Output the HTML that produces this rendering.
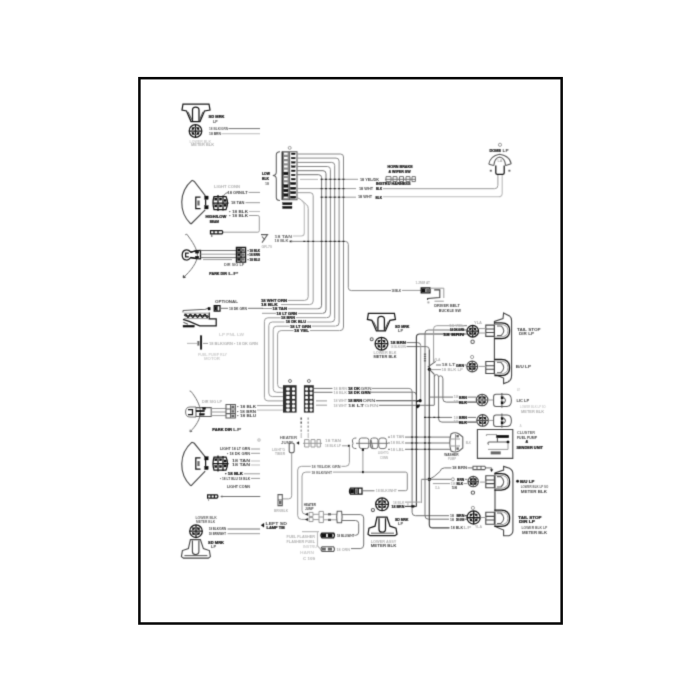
<!DOCTYPE html>
<html><head><meta charset="utf-8"><title>Wiring diagram</title>
<style>
html,body{margin:0;padding:0;background:#fff;}
body{width:700px;height:700px;overflow:hidden;font-family:"Liberation Sans",sans-serif;}
svg{display:block;}
path,circle,rect,ellipse{fill:none;}
.w{stroke:#727272;stroke-width:1.0;}
.wm{stroke:#888;stroke-width:1.0;}
.wl{stroke:#9a9a9a;stroke-width:1.0;}
.wf{stroke:#bcbcbc;stroke-width:1.1;}
.wd{stroke:#444;stroke-width:1.15;}
.d{stroke:#161616;stroke-width:1.25;}
.m{stroke:#5c5c5c;stroke-width:1.05;}
.a{stroke:#454545;stroke-width:1.1;}
.fd{fill:#101010;stroke:#101010;stroke-width:.3;}
.fm{fill:#666;stroke:none;}
.fx{fill:#2a2a2a;stroke:none;}
.fl{fill:#aaa;stroke:none;}
text{font-family:"Liberation Sans",sans-serif;font-weight:bold;}
.t{fill:#666;}
.td{fill:#161616;stroke:#161616;stroke-width:.22;}
.tm{fill:#444;}
.tl{fill:#b0b0b0;}
.tf{fill:#cccccc;}
</style></head><body>
<svg width="700" height="700" viewBox="0 0 700 700">
<defs><filter id="b" filterUnits="userSpaceOnUse" x="140" y="80" width="422" height="544" color-interpolation-filters="sRGB"><feConvolveMatrix order="3" kernelMatrix="1 5 1 5 25 5 1 5 1" divisor="49" edgeMode="duplicate" preserveAlpha="false"/></filter></defs>
<rect x="0" y="0" width="700" height="700" style="fill:#fff"/>
<rect x="139.4" y="78.18" width="422.25" height="545.32" style="fill:none;stroke:#060606;stroke-width:2.5"/>
<g filter="url(#b)">
<path class="d" d="M183,104 H209 L210,110 L204.5,111 L200,121.5 H191 L186.5,111 L182,110 Z" stroke-width="1.7"/>
<path class="d" d="M192.5,121 V110 Q192.5,107 195.7,107 Q199,107 199,110 V121" stroke-width="1.5"/>
<path class="m" d="M188,112 L192,120 M203,112 L199.5,120"/>
<circle class="d" cx="195.5" cy="131" r="6.3" stroke-width="1.6"/>
<path class="d" stroke-width="0.9" d="M189.2,131 H201.8 M195.5,124.7 V137.3"/>
<circle class="m" cx="195.5" cy="131" r="3.47" stroke-width="0.9"/>
<rect class="fd" x="191.98" y="127.58" width="2.0" height="1.8"/>
<rect class="fd" x="197.02" y="127.58" width="2.0" height="1.8"/>
<rect class="fd" x="191.98" y="132.62" width="2.0" height="1.8"/>
<rect class="fd" x="197.02" y="132.62" width="2.0" height="1.8"/>
<text class="td" x="208.5" y="118.2" font-size="3.96" textLength="16.0" lengthAdjust="spacingAndGlyphs">SD MRK</text>
<text class="tm" x="213.0" y="123.2" font-size="3.78" textLength="4.5" lengthAdjust="spacingAndGlyphs">LP</text>
<text class="t" x="209.0" y="130.4" font-size="3.61" textLength="19.0" lengthAdjust="spacingAndGlyphs">18 BLK/GRN</text>
<text class="tm" x="209.0" y="135.2" font-size="3.61" textLength="12.0" lengthAdjust="spacingAndGlyphs">18 BRN</text>
<path class="w" d="M228.5,128.6 H260"/>
<path class="wf" d="M221.5,133.7 H260"/>
<text class="tf" x="189.5" y="143.0" font-size="3.27" textLength="21.5" lengthAdjust="spacingAndGlyphs">LOWER BLK</text>
<text class="tl" x="191.0" y="146.4" font-size="3.27" textLength="23.0" lengthAdjust="spacingAndGlyphs">METER BLK</text>
<path class="a" d="M192.0,180.3 A29.6,29.6 0 0 0 190.8,224.0"/>
<path class="a" d="M192.0,180.3 L194.3,181.4 L205.4,195.8 M205.2,209.8 L191.0,224.0"/>
<path class="d" d="M200.5,197.2 H195.8 V208.6 H200.5" stroke-width="1.5"/>
<rect class="fd" x="204.6" y="196.0" width="3.6" height="3.4"/>
<rect class="fd" x="204.6" y="205.6" width="3.6" height="3.4"/>
<path class="d" d="M205.6,199.4 V205.6" stroke-width="1.2"/>
<rect class="fm" x="197.4" y="200.5" width="2.2" height="5"/>
<path class="d" d="M214.0,196.5 L226.0,196.5 Q229.0,203.0 226.0,209.5 L214.0,209.5 Q212.0,203.0 214.0,196.5 Z" stroke-width="1.2"/>
<path class="d" d="M218.0,195.0 V211.0 M223.0,195.5 V210.5 M213.0,203.0 H228.5" stroke-width="1"/>
<rect class="fd" x="214.6" y="198.0" width="2.3" height="2.2"/>
<rect class="fd" x="219.4" y="198.0" width="2.3" height="2.2"/>
<rect class="fd" x="214.6" y="204.8" width="2.3" height="2.2"/>
<rect class="fd" x="219.4" y="204.8" width="2.3" height="2.2"/>
<rect class="fd" x="224.0" y="199.3" width="2.3" height="2.2"/>
<rect class="fd" x="224.0" y="204.2" width="2.3" height="2.2"/>
<text class="tl" x="214.0" y="188.0" font-size="3.27" textLength="26.0" lengthAdjust="spacingAndGlyphs">LIGHT CONN</text>
<path class="w" d="M223.5,196 Q225,192.6 228.5,192.4"/>
<text class="tm" x="227.5" y="193.7" font-size="3.78" textLength="20.1" lengthAdjust="spacingAndGlyphs">18 ORN/LT</text>
<path class="wl" d="M248.6,192.4 H260"/>
<text class="tm" x="231.0" y="204.0" font-size="3.61" textLength="13.5" lengthAdjust="spacingAndGlyphs">18 TAN</text>
<path class="wl" d="M245.5,202.7 H260"/>
<text class="tm" x="229.0" y="212.8" font-size="3.61" textLength="19.0" lengthAdjust="spacingAndGlyphs">• 18 BLK</text>
<path class="wf" d="M249,211.5 H260"/>
<text class="tm" x="229.0" y="216.8" font-size="3.61" textLength="19.0" lengthAdjust="spacingAndGlyphs">• 18 BLK</text>
<path class="wl" d="M249,215.5 H257.8 Q259.3,215.5 259.3,217 V230.6 Q259.3,232.2 257.8,232.2 H223.5"/>
<text class="td" x="205.5" y="218.4" font-size="3.61" textLength="20.9" lengthAdjust="spacingAndGlyphs">HIGH/LOW</text>
<text class="td" x="209.7" y="222.6" font-size="3.61" textLength="9.3" lengthAdjust="spacingAndGlyphs">BEAM</text>
<path class="d" d="M210.5,230.6 H222 Q223.6,232.2 222,233.8 H210.5 Z M214,230.6 V233.8 M218,230.6 V233.8" stroke-width="1"/>
<path class="m" d="M211.8,234 V237"/>
<path class="w" d="M186.8,234.2 C192.4,241.6 197.3,249.0 197.4,255.5 C197.4,262.0 191.0,271.0 183.2,277.6"/>
<path class="a" d="M183.2,277.6 l0.3,-2.4 M183.2,277.6 l2.4,-0.5"/>
<path class="w" d="M186.8,234.2 l-1.6,0.6"/>
<path class="d" d="M196.0,251.0 L190.6,252.0 Q188.6,249.6 186.4,249.8 Q182.2,250.4 182.2,254.9 Q182.2,259.6 186.4,260.0 Q188.6,260.2 190.6,257.6 L196.0,258.4" stroke-width="1.3"/>
<path class="d" d="M188.8,253.0 H185.6 V256.8 H188.8" stroke-width="1.2"/>
<path class="d" d="M190.6,252.3 L196.0,250.6 L200.5,250.4 V258.8 L196.0,258.6 L190.6,257.3" stroke-width="1.2"/>
<rect class="fd" x="195.4" y="251.2" width="3.4" height="2"/>
<rect class="fd" x="195.4" y="256.2" width="3.4" height="2"/>
<path class="w" d="M200.5,250.5 H236 M200.5,257.6 H236"/>
<path class="wl" d="M200.5,254.2 H236"/>
<path class="wl" d="M203,259.6 H232"/>
<path class="d" d="M236.4,247.4 H245.6 V262 H236.4 Z M236.4,252.2 H245.6 M236.4,257 H245.6 M241,247.4 V262" stroke-width="1"/>
<rect class="fd" x="237.4" y="248.6" width="2.6" height="2.4"/>
<rect class="fm" x="242" y="248.6" width="2.6" height="2.4"/>
<rect class="fd" x="237.4" y="253.4" width="2.6" height="2.4"/>
<rect class="fm" x="242" y="253.4" width="2.6" height="2.4"/>
<rect class="fd" x="237.4" y="258.2" width="2.6" height="2.4"/>
<rect class="fm" x="242" y="258.2" width="2.6" height="2.4"/>
<text class="td" x="247.5" y="251.6" font-size="3.78" textLength="12.5" lengthAdjust="spacingAndGlyphs">• 18 BLK</text>
<text class="td" x="247.5" y="255.9" font-size="3.78" textLength="12.5" lengthAdjust="spacingAndGlyphs">• 18 BRN</text>
<text class="td" x="247.5" y="260.8" font-size="3.78" textLength="12.5" lengthAdjust="spacingAndGlyphs">• 18 BLU</text>
<text class="t" x="224.0" y="266.0" font-size="3.27" textLength="20.4" lengthAdjust="spacingAndGlyphs">DIR SIG LP</text>
<text class="td" x="209.3" y="275.2" font-size="3.78" textLength="17.7" lengthAdjust="spacingAndGlyphs">PARK DIR</text>
<text class="tm" x="228.0" y="275.2" font-size="3.61" textLength="10.6" lengthAdjust="spacingAndGlyphs">LP</text>
<path class="m" d="M261,234.6 H267.6 L262,242.6 M262,236.5 L265,240"/>
<text class="tl" x="261.4" y="247.6" font-size="3.1" textLength="10.6" lengthAdjust="spacingAndGlyphs">GR-70</text>
<text class="t" x="274.5" y="237.6" font-size="2.92" textLength="17.5" lengthAdjust="spacingAndGlyphs">18 TAN</text>
<text class="t" x="274.5" y="242.3" font-size="2.92" textLength="14.0" lengthAdjust="spacingAndGlyphs">18 BLK</text>
<rect class="fx" x="289.6" y="240.6" width="2.6" height="1.6"/>
<circle class="wl" cx="289.7" cy="147.9" r="1.5" stroke-width="0.7"/>
<path class="m" d="M280,151.8 Q276.3,151.8 276.3,155 V172 Q276.3,175.4 272.8,175.4 Q276.3,175.4 276.3,179 V197.5 Q276.3,200.5 280,200.5"/>
<text class="td" x="262.0" y="174.5" font-size="3.44" textLength="8.0" lengthAdjust="spacingAndGlyphs">LOW</text>
<text class="td" x="262.0" y="179.5" font-size="3.44" textLength="7.0" lengthAdjust="spacingAndGlyphs">BLK</text>
<text class="t" x="265.0" y="184.5" font-size="3.44" textLength="4.0" lengthAdjust="spacingAndGlyphs">18</text>
<rect x="281.8" y="151.8" width="7.4" height="48" style="fill:#8c8c8c;stroke:none"/>
<rect x="281.6" y="151.6" width="1.5" height="48.4" style="fill:#333;stroke:none"/>
<path class="m" d="M281.8,151.8 H297 V199.8 H281.8 M289.6,151.8 V199.8"/>
<rect x="284" y="152.7" width="3.6" height="2.0" style="fill:#fff;stroke:none"/>
<rect class="fd" x="291.4" y="153.0" width="3.8" height="1.6"/>
<rect x="284" y="157.0" width="3.6" height="2.0" style="fill:#fff;stroke:none"/>
<rect class="fd" x="291.4" y="157.3" width="3.8" height="1.6"/>
<rect x="284" y="161.3" width="3.6" height="2.0" style="fill:#fff;stroke:none"/>
<rect class="fd" x="291.4" y="161.6" width="3.8" height="1.6"/>
<rect x="284" y="165.5" width="3.6" height="2.0" style="fill:#fff;stroke:none"/>
<rect class="fd" x="291.4" y="165.8" width="3.8" height="1.6"/>
<rect x="284" y="169.7" width="3.6" height="2.0" style="fill:#fff;stroke:none"/>
<rect class="fd" x="291.4" y="170.0" width="3.8" height="1.6"/>
<rect x="284" y="173.9" width="3.6" height="2.0" style="fill:#fff;stroke:none"/>
<rect class="fd" x="291.4" y="174.2" width="3.8" height="1.6"/>
<rect x="284" y="178.1" width="3.6" height="2.0" style="fill:#fff;stroke:none"/>
<rect class="fd" x="291.4" y="178.4" width="3.8" height="1.6"/>
<rect x="284" y="182.4" width="3.6" height="2.0" style="fill:#fff;stroke:none"/>
<rect class="fd" x="290.4" y="182.4" width="5.4" height="2.2"/>
<rect x="284" y="187.2" width="3.6" height="2.0" style="fill:#fff;stroke:none"/>
<rect class="fd" x="290.4" y="187.2" width="5.4" height="2.2"/>
<rect x="284" y="191.5" width="3.6" height="2.0" style="fill:#fff;stroke:none"/>
<rect class="fd" x="290.4" y="191.5" width="5.4" height="2.2"/>
<rect x="284" y="196.1" width="3.6" height="2.0" style="fill:#fff;stroke:none"/>
<rect class="fd" x="290.4" y="196.1" width="5.4" height="2.2"/>
<rect class="fd" x="283.6" y="172.3" width="4.4" height="2.5"/>
<rect class="fd" x="283.6" y="184.8" width="4.4" height="2.5"/>
<rect class="fd" x="283.6" y="189.3" width="4.4" height="2.5"/>
<rect class="fd" x="283.6" y="193.8" width="4.4" height="2.5"/>
<rect class="fd" x="282.6" y="202.6" width="9.4" height="2.2"/>
<rect class="fd" x="282.6" y="206.3" width="9.4" height="2.2"/>
<path class="wm" d="M297,154.0 H340.5 Q343.5,154.0 343.5,157.0 V327.1 Q343.5,330.6 340.0,330.6"/>
<path class="wm" d="M297,158.1 H336.1 Q339.1,158.1 339.1,161.1 V322.6 Q339.1,326.1 335.6,326.1"/>
<path class="wm" d="M297,162.4 H331.7 Q334.7,162.4 334.7,165.4 V318.5 Q334.7,322.0 331.2,322.0"/>
<path class="wm" d="M297,166.5 H327.4 Q330.4,166.5 330.4,169.5 V314.2 Q330.4,317.7 326.9,317.7"/>
<path class="w" d="M297,170.7 H323.0 Q326.0,170.7 326.0,173.7 V309.9 Q326.0,313.4 322.5,313.4"/>
<path class="w" d="M297,174.7 H318.6 Q321.6,174.7 321.6,177.7 V305.3 Q321.6,308.8 318.1,308.8"/>
<path class="wf" d="M300,179.4 H318"/>
<path class="wl" d="M321.6,179.3 H358"/>
<path class="wl" d="M297,188.6 H356"/>
<path class="wl" d="M322,197.2 H356"/>
<rect class="fx" x="320.6" y="178.7" width="2.0" height="1.2"/>
<rect class="fx" x="325.0" y="178.7" width="2.0" height="1.2"/>
<rect class="fx" x="329.4" y="178.7" width="2.0" height="1.2"/>
<rect class="fx" x="333.7" y="178.7" width="2.0" height="1.2"/>
<rect class="fx" x="338.1" y="178.7" width="2.0" height="1.2"/>
<rect class="fx" x="342.5" y="178.7" width="2.0" height="1.2"/>
<rect class="fx" x="320.6" y="188.0" width="2.0" height="1.2"/>
<rect class="fx" x="325.0" y="188.0" width="2.0" height="1.2"/>
<rect class="fx" x="329.4" y="188.0" width="2.0" height="1.2"/>
<rect class="fx" x="333.7" y="188.0" width="2.0" height="1.2"/>
<rect class="fx" x="338.1" y="188.0" width="2.0" height="1.2"/>
<rect class="fx" x="342.5" y="188.0" width="2.0" height="1.2"/>
<rect class="fx" x="320.6" y="196.6" width="2.0" height="1.2"/>
<rect class="fx" x="325.0" y="196.6" width="2.0" height="1.2"/>
<rect class="fx" x="329.4" y="196.6" width="2.0" height="1.2"/>
<rect class="fx" x="333.7" y="196.6" width="2.0" height="1.2"/>
<rect class="fx" x="338.1" y="196.6" width="2.0" height="1.2"/>
<rect class="fx" x="342.5" y="196.6" width="2.0" height="1.2"/>
<path class="wl" d="M297,192.7 H310.2 Q313.2,192.7 313.2,195.7 V301 Q313.2,304.6 309.6,304.6 H281"/>
<path class="wl" d="M297,197.6 L300,199 L306.5,204.6 Q308.2,206 308.2,208.5 V296.8 Q308.2,300.4 304.6,300.4 H288"/>
<path class="wf" d="M301.5,200.3 Q304.3,202.5 304.3,205 V233 Q304.3,236 301.3,236 H293"/>
<path class="wm" d="M291,241.4 H345.3 Q348.3,241.4 348.3,244.4 V287.6 Q348.3,290.6 351.3,290.6 H391"/>
<rect class="fx" x="303.3" y="240.8" width="2.0" height="1.2"/>
<rect class="fx" x="307.2" y="240.8" width="2.0" height="1.2"/>
<rect class="fx" x="312.2" y="240.8" width="2.0" height="1.2"/>
<rect class="fx" x="320.6" y="240.8" width="2.0" height="1.2"/>
<rect class="fx" x="325.0" y="240.8" width="2.0" height="1.2"/>
<rect class="fx" x="329.4" y="240.8" width="2.0" height="1.2"/>
<rect class="fx" x="333.7" y="240.8" width="2.0" height="1.2"/>
<rect class="fx" x="338.1" y="240.8" width="2.0" height="1.2"/>
<rect class="fx" x="342.5" y="240.8" width="2.0" height="1.2"/>
<text class="td" x="261.0" y="301.9" font-size="3.78" textLength="26.0" lengthAdjust="spacingAndGlyphs">18 WHT ORN</text>
<text class="td" x="261.0" y="306.2" font-size="3.78" textLength="16.7" lengthAdjust="spacingAndGlyphs">18 BLK</text>
<text class="td" x="272.6" y="310.2" font-size="3.78" textLength="14.4" lengthAdjust="spacingAndGlyphs">18 TAN</text>
<text class="td" x="276.6" y="314.8" font-size="3.78" textLength="20.4" lengthAdjust="spacingAndGlyphs">18 LT GRN</text>
<text class="td" x="281.0" y="319.1" font-size="3.78" textLength="14.0" lengthAdjust="spacingAndGlyphs">18 BRN</text>
<text class="td" x="285.7" y="323.3" font-size="3.78" textLength="20.3" lengthAdjust="spacingAndGlyphs">18 DK BLU</text>
<text class="td" x="290.0" y="327.5" font-size="3.78" textLength="21.0" lengthAdjust="spacingAndGlyphs">18 LT GRN</text>
<text class="td" x="294.0" y="332.1" font-size="3.78" textLength="15.0" lengthAdjust="spacingAndGlyphs">18 YEL</text>
<path class="wl" d="M318,308.8 H288"/>
<path class="wl" d="M322.3,313.4 H298"/>
<path class="wl" d="M272,308.5 H262"/>
<path class="wl" d="M276,313.3 H262"/>
<path class="wl" d="M280.5,317.8 H267.9 Q264.4,317.8 264.4,321.3 V397.4 Q264.4,400.9 267.9,400.9 H283"/>
<path class="wl" d="M284.5,322.0 H272.3 Q268.8,322.0 268.8,325.5 V393.1 Q268.8,396.6 272.3,396.6 H283"/>
<path class="wl" d="M289.5,326.2 H276.7 Q273.2,326.2 273.2,329.7 V388.8 Q273.2,392.3 276.7,392.3 H283"/>
<path class="wl" d="M293.5,330.6 H281.1 Q277.6,330.6 277.6,334.1 V384.5 Q277.6,388.0 281.1,388.0 H283"/>
<path class="wl" d="M326.7,317.7 H296"/>
<path class="wl" d="M331,322.0 H307"/>
<path class="wl" d="M335.3,326.1 H312"/>
<path class="wl" d="M339.7,330.6 H310"/>
<text class="tm" x="215.0" y="303.4" font-size="3.44" textLength="23.0" lengthAdjust="spacingAndGlyphs">OPTIONAL</text>
<path class="d" d="M214.2,305.7 H220 V311 H214.2 Z M217,305.7 V311" stroke-width="1.1"/>
<rect class="fd" x="214.8" y="306.4" width="1.8" height="3.8"/>
<text class="tm" x="229.0" y="309.6" font-size="3.61" textLength="18.0" lengthAdjust="spacingAndGlyphs">18 DK GRN</text>
<path class="w" d="M220.3,308.3 H228 M248,308.3 H263"/>
<path class="m" d="M183,310.6 L205.5,309.2 L209.5,307.8"/>
<path class="m" d="M183,310.6 V312.4"/>
<path class="d" d="M184.4,315.9 q1.2,-3.4 2.4,0 q1.2,3.4 2.4,0 q1.2,-3.4 2.4,0 q1.2,3.4 2.4,0 q1.2,-3.4 2.4,0 q1.2,3.4 2.4,0 q1.2,-3.4 2.4,0 q1.2,3.4 2.4,0 q1.2,-3.4 2.4,0 q1.2,3.4 2.4,0" stroke-width="1.7"/>
<path class="d" d="M185,315.9 H208" stroke-width="1.2"/>
<path class="wl" d="M184,313.2 H208 M184,318.6 H208"/>
<path class="d" d="M209.2,312.4 V318.8 H216.2 V325.8 H199.6 L189.2,321.4 L183,319.4" stroke-width="1.3"/>
<path class="m" d="M183.4,322.2 L188,324.2"/>
<rect class="fd" x="183" y="325.2" width="11.4" height="1.9"/>
<rect class="fd" x="208" y="307.4" width="2.2" height="2.6"/>
<text class="tf" x="219.0" y="336.4" font-size="3.27" textLength="25.0" lengthAdjust="spacingAndGlyphs">LP PNL LW</text>
<rect class="fd" x="200.2" y="335.8" width="1.7" height="13.6"/>
<rect class="fm" x="197.4" y="341" width="2" height="4.6"/>
<path class="wf" d="M187,343.4 H197"/>
<path class="wl" d="M203,343.4 H208"/>
<text class="tl" x="209.0" y="344.8" font-size="3.27" textLength="49.0" lengthAdjust="spacingAndGlyphs">18 BLK/GRN • 18 DK GRN</text>
<text class="tf" x="198.0" y="355.6" font-size="3.27" textLength="29.0" lengthAdjust="spacingAndGlyphs">FUEL PUMP RLY</text>
<text class="tf" x="204.0" y="360.4" font-size="3.27" textLength="16.0" lengthAdjust="spacingAndGlyphs">MOTOR</text>
<circle class="w" cx="290" cy="381" r="1.5" stroke-width="0.7"/>
<circle class="w" cx="308.9" cy="381" r="1.5" stroke-width="0.7"/>
<rect x="283" y="385.2" width="13.6" height="27.4" style="fill:#303030;stroke:none"/>
<rect x="303.9" y="385.2" width="9.9" height="27.4" style="fill:#303030;stroke:none"/>
<rect x="286.2" y="387.5" width="3.5" height="3.0" rx="0.8" style="fill:#fff;stroke:none"/>
<rect x="292.0" y="387.5" width="3.0" height="3.0" rx="0.8" style="fill:#fff;stroke:none"/>
<rect x="305.2" y="387.5" width="2.8" height="3.0" rx="0.8" style="fill:#fff;stroke:none"/>
<rect x="309.7" y="387.5" width="2.7" height="3.0" rx="0.8" style="fill:#fff;stroke:none"/>
<rect x="286.2" y="391.8" width="3.5" height="3.0" rx="0.8" style="fill:#fff;stroke:none"/>
<rect x="292.0" y="391.8" width="3.0" height="3.0" rx="0.8" style="fill:#fff;stroke:none"/>
<rect x="305.2" y="391.8" width="2.8" height="3.0" rx="0.8" style="fill:#fff;stroke:none"/>
<rect x="309.7" y="391.8" width="2.7" height="3.0" rx="0.8" style="fill:#fff;stroke:none"/>
<rect x="286.2" y="396.1" width="3.5" height="3.0" rx="0.8" style="fill:#fff;stroke:none"/>
<rect x="292.0" y="396.1" width="3.0" height="3.0" rx="0.8" style="fill:#fff;stroke:none"/>
<rect x="305.2" y="396.1" width="2.8" height="3.0" rx="0.8" style="fill:#fff;stroke:none"/>
<rect x="309.7" y="396.1" width="2.7" height="3.0" rx="0.8" style="fill:#fff;stroke:none"/>
<rect x="286.2" y="400.4" width="3.5" height="3.0" rx="0.8" style="fill:#fff;stroke:none"/>
<rect x="292.0" y="400.4" width="3.0" height="3.0" rx="0.8" style="fill:#fff;stroke:none"/>
<rect x="305.2" y="400.4" width="2.8" height="3.0" rx="0.8" style="fill:#fff;stroke:none"/>
<rect x="309.7" y="400.4" width="2.7" height="3.0" rx="0.8" style="fill:#fff;stroke:none"/>
<rect x="286.2" y="404.6" width="3.5" height="3.0" rx="0.8" style="fill:#fff;stroke:none"/>
<rect x="292.0" y="404.6" width="3.0" height="3.0" rx="0.8" style="fill:#fff;stroke:none"/>
<rect x="305.2" y="404.6" width="2.8" height="3.0" rx="0.8" style="fill:#fff;stroke:none"/>
<rect x="309.7" y="404.6" width="2.7" height="3.0" rx="0.8" style="fill:#fff;stroke:none"/>
<rect x="286.2" y="408.4" width="3.5" height="3.0" rx="0.8" style="fill:#fff;stroke:none"/>
<rect x="292.0" y="408.4" width="3.0" height="3.0" rx="0.8" style="fill:#fff;stroke:none"/>
<rect x="305.2" y="408.4" width="2.8" height="3.0" rx="0.8" style="fill:#fff;stroke:none"/>
<rect x="309.7" y="408.4" width="2.7" height="3.0" rx="0.8" style="fill:#fff;stroke:none"/>
<path class="wl" d="M257,405.6 H283"/>
<path class="wf" d="M257,410.1 H283"/>
<text class="tl" x="333.5" y="389.8" font-size="3.44" textLength="13.5" lengthAdjust="spacingAndGlyphs">18 BRN</text>
<text class="td" x="348.0" y="390.0" font-size="3.96" textLength="12.0" lengthAdjust="spacingAndGlyphs">18 DK</text>
<text class="t" x="360.5" y="389.8" font-size="3.44" textLength="11.0" lengthAdjust="spacingAndGlyphs">GRN</text>
<path class="w" d="M314,388.4 H332.5"/>
<path class="wm" d="M372,388.4 H409 Q412.1,388.4 412.1,391.5"/>
<text class="tl" x="333.5" y="393.7" font-size="3.44" textLength="13.5" lengthAdjust="spacingAndGlyphs">18 BLK</text>
<text class="td" x="348.0" y="393.9" font-size="3.96" textLength="22.5" lengthAdjust="spacingAndGlyphs">18 DK GRN</text>
<path class="w" d="M314,392.3 H332.5"/>
<path class="w" d="M371,392.2 H413.5 Q416.4,392.2 416.4,395"/>
<text class="tl" x="333.5" y="402.3" font-size="3.44" textLength="13.5" lengthAdjust="spacingAndGlyphs">18 WHT</text>
<text class="td" x="348.0" y="402.4" font-size="3.96" textLength="14.0" lengthAdjust="spacingAndGlyphs">18 BRN</text>
<text class="t" x="362.5" y="402.3" font-size="3.44" textLength="13.0" lengthAdjust="spacingAndGlyphs">ORN</text>
<path class="wl" d="M316,400.9 H327"/>
<path class="a" d="M376,400.8 H421"/>
<text class="tl" x="333.5" y="406.6" font-size="3.44" textLength="13.5" lengthAdjust="spacingAndGlyphs">18 WHT</text>
<text class="tm" x="348.0" y="406.7" font-size="3.78" textLength="16.0" lengthAdjust="spacingAndGlyphs">18 LT</text>
<text class="tl" x="364.5" y="406.6" font-size="3.44" textLength="14.0" lengthAdjust="spacingAndGlyphs">GRN</text>
<path class="wl" d="M316,405.2 H327"/>
<path class="w" d="M379,405.3 H434"/>
<rect class="fm" x="300.4" y="417.5" width="1.6" height="2.2"/>
<rect class="fl" x="307.4" y="417.5" width="1.6" height="2.2"/>
<rect class="fm" x="300.4" y="421.5" width="1.6" height="2.2"/>
<rect class="fl" x="307.4" y="421.5" width="1.6" height="2.2"/>
<rect class="fl" x="300.4" y="425.5" width="1.6" height="2.2"/>
<rect class="fl" x="307.4" y="425.5" width="1.6" height="2.2"/>
<rect class="fl" x="300.4" y="429.5" width="1.6" height="2.2"/>
<rect class="fl" x="307.4" y="429.5" width="1.6" height="2.2"/>
<path class="wf" d="M301.2,433 V438 M308.2,433 V438"/>
<text class="t" x="279.7" y="439.2" font-size="3.44" textLength="17.3" lengthAdjust="spacingAndGlyphs">HEATER</text>
<text class="t" x="281.0" y="444.4" font-size="3.44" textLength="12.0" lengthAdjust="spacingAndGlyphs">JUMP</text>
<path class="fd" d="M296.6,443 l2.4,-1.4 v2.8 z"/>
<text class="tl" x="272.0" y="450.8" font-size="3.27" textLength="13.0" lengthAdjust="spacingAndGlyphs">LIGHT'G</text>
<text class="tl" x="275.0" y="454.8" font-size="3.27" textLength="10.0" lengthAdjust="spacingAndGlyphs">TIMER</text>
<path class="m" d="M289.2,444.6 Q289.2,443 291.7,443 Q294.2,443 294.2,444.6 V451 Q294.2,452.8 291.7,452.8 Q289.2,452.8 289.2,451 Z"/>
<path class="wl" d="M291.7,452.8 V495.8 Q291.7,498.9 288.6,498.9 H282.6"/>
<path class="m" d="M278,494.6 H282.3 V505.6 H278 Z M278,500 H282.3"/>
<rect class="fm" x="279" y="501" width="2.6" height="3.4"/>
<text class="tl" x="274.0" y="512.4" font-size="3.27" textLength="14.0" lengthAdjust="spacingAndGlyphs">BRN/BLK</text>
<path class="wl" d="M304.6,439.6 H309 V447 H304.6 Z M311,439.6 H315 V447 H311 Z M317,439.6 H320.4 V447 H317 Z"/>
<path class="wl" d="M303,443.3 H322"/>
<text class="tl" x="325.0" y="441.6" font-size="3.44" textLength="16.0" lengthAdjust="spacingAndGlyphs">18 TAN</text>
<text class="tl" x="325.0" y="447.2" font-size="3.44" textLength="16.0" lengthAdjust="spacingAndGlyphs">18 BLK LP</text>
<rect class="fx" x="347.8" y="444.8" width="2.0" height="2.0"/>
<path class="wl" d="M342,445.8 H347.6"/>
<path class="w" d="M356.4,438 Q352,438 352.4,441 Q353.5,443.3 352.4,445.6 Q352,448.6 356.4,448.6"/>
<path class="w" d="M361.5,438 H366.5 Q368.8,438 368.8,440.5 V446 Q368.8,448.6 366.5,448.6 H361.5 Q359.2,448.6 359.2,446 V440.5 Q359.2,438 361.5,438 Z"/>
<path class="w" d="M373,438 H375.8 Q378,438 378,440.5 V446 Q378,448.6 375.8,448.6 H373 Q370.8,438 370.8,440.5 V446 Q370.8,448.6 373,448.6"/>
<path class="w" d="M372.8,438 Q370.6,438 370.6,440.5 V446 Q370.6,448.6 372.8,448.6"/>
<path class="w" d="M381,438 H384 Q386.4,438 386.4,440.5 V446 Q386.4,448.6 384,448.6 H381 Q378.8,448.6 378.8,446 V440.5 Q378.8,438 381,438 Z"/>
<path class="w" d="M356,443.3 H388"/>
<rect class="fx" x="361.8" y="448.6" width="2.2" height="2.4"/>
<text class="tl" x="378.0" y="454.4" font-size="3.27" textLength="10.6" lengthAdjust="spacingAndGlyphs">LIGHT'G</text>
<text class="tl" x="380.0" y="458.6" font-size="3.27" textLength="8.0" lengthAdjust="spacingAndGlyphs">CONN</text>
<text class="tl" x="390.5" y="438.2" font-size="3.44" textLength="13.8" lengthAdjust="spacingAndGlyphs">18 TAN</text>
<text class="tl" x="390.5" y="444.2" font-size="3.44" textLength="13.8" lengthAdjust="spacingAndGlyphs">18 BLK</text>
<text class="tl" x="390.5" y="450.6" font-size="3.44" textLength="13.8" lengthAdjust="spacingAndGlyphs">18 LBL</text>
<path class="w" d="M388,437.1 H390 M405,437.1 H450"/>
<path class="w" d="M388,443 H390 M405,443 H450"/>
<path class="w" d="M388,449.3 H390 M405,449.3 H450"/>
<path class="m" d="M451,434 Q455,431.6 459,434 L462.8,437 V448 L459,451 Q455,453 451,451 Q448.6,442.5 451,434 Z"/>
<path class="wl" d="M455.5,434 V451 M451,439 H460 M451,446 H460"/>
<rect class="fm" x="456.4" y="435" width="2.4" height="2.4"/>
<rect class="fm" x="456.4" y="447.4" width="2.4" height="2.4"/>
<text class="tl" x="465.7" y="443.6" font-size="3.27" textLength="5.3" lengthAdjust="spacingAndGlyphs">BLK</text>
<text class="tm" x="444.3" y="455.8" font-size="3.44" textLength="14.3" lengthAdjust="spacingAndGlyphs">WASHER</text>
<text class="tl" x="448.0" y="459.8" font-size="3.27" textLength="8.0" lengthAdjust="spacingAndGlyphs">PUMP</text>
<path class="wl" d="M349.4,447 V462.5 Q349.4,466.3 345.6,466.3 H341.5"/>
<path class="wl" d="M310.8,466.3 H301.6 Q297.7,466.3 297.7,470 V515.6 Q297.7,519.4 301.6,519.4 H306"/>
<text class="t" x="311.4" y="467.8" font-size="3.61" textLength="29.2" lengthAdjust="spacingAndGlyphs">18 YEL/DK GRN</text>
<path class="wl" d="M310.6,472.1 H305.8 Q302,472.1 302,476 V510.6 Q302,514.3 305.8,514.3 H306"/>
<text class="t" x="311.4" y="473.6" font-size="3.61" textLength="20.6" lengthAdjust="spacingAndGlyphs">18 BLK/WHT</text>
<path class="wl" d="M333,472.1 H360"/>
<path class="wm" d="M360,472.1 H405.6 Q407.3,472.1 407.3,473.8 V489 Q407.3,490.7 405.6,490.7 H398"/>
<path class="wl" d="M362.9,450.8 V472.1"/>
<rect class="fx" x="362" y="471" width="1.8" height="2.2"/>
<path class="d" d="M350.5,488 H362 V494.2 H350.5 Q348.4,491 350.5,488 Z M354.5,488 V494.2 M358.3,488 V494.2" stroke-width="1.1"/>
<rect class="fd" x="350.2" y="489.2" width="3.6" height="3.8"/>
<rect class="fm" x="355.2" y="489.2" width="2.6" height="3.8"/>
<text class="tl" x="375.7" y="492.2" font-size="3.44" textLength="21.3" lengthAdjust="spacingAndGlyphs">18 BLK/WHT</text>
<path class="w" d="M362.2,490.8 H374.5"/>
<text class="tm" x="303.7" y="506.0" font-size="3.44" textLength="12.3" lengthAdjust="spacingAndGlyphs">HEATER</text>
<text class="tm" x="305.0" y="510.0" font-size="3.44" textLength="8.5" lengthAdjust="spacingAndGlyphs">JUMP</text>
<path class="fd" d="M305.4,514.3 l2.4,-1.3 v2.6 z"/>
<path class="fd" d="M305.4,519.5 l2.4,-1.3 v2.6 z"/>
<path class="wl" d="M309,512.4 H313 V516.4 H309 Z M309,517.6 H313 V521.6 H309 Z"/>
<path class="wl" d="M319,511.4 H323.4 V522.6 H319 Z M319,517 H323.4"/>
<path class="wl" d="M313,514.3 H319 M313,519.6 H319 M323.4,514.3 H337 M323.4,519.8 H337"/>
<rect class="fm" x="328" y="513.2" width="3" height="2.2"/>
<rect class="fm" x="328" y="518.8" width="3" height="2.2"/>
<path class="m" d="M337.2,511.2 H341.6 Q342.6,517 341.6,522.8 H337.2 Q336.2,517 337.2,511.2 Z"/>
<path class="w" d="M342,514.6 H360.4 Q363.7,514.6 363.7,518 V545 Q363.7,548.6 360.2,548.6 H351"/>
<path class="w" d="M342,520.5 H355.6 Q358.7,520.5 358.7,523.6 V532 Q358.7,535.3 355.6,535.3 H354.5"/>
<path class="d" d="M322,533 H333.6 Q335.4,535.3 333.6,537.8 H322 Q319.8,535.3 322,533 Z" stroke-width="1.1"/>
<rect class="fd" x="321.6" y="533.8" width="4.4" height="3.2"/>
<rect class="fd" x="328" y="533.8" width="4.2" height="3.2"/>
<text class="tm" x="337.0" y="536.8" font-size="3.44" textLength="17.3" lengthAdjust="spacingAndGlyphs">18 BLU/WHT</text>
<path class="m" d="M322,546.8 H333.6 Q335.4,549 333.6,551.4 H322 Q319.8,549 322,546.8 Z"/>
<rect class="fm" x="321.6" y="547.6" width="4.2" height="3"/>
<rect class="fm" x="327.8" y="547.6" width="4.2" height="3"/>
<text class="tl" x="336.5" y="550.6" font-size="3.44" textLength="13.5" lengthAdjust="spacingAndGlyphs">18 ORN</text>
<text class="tl" x="286.6" y="537.8" font-size="3.27" textLength="28.4" lengthAdjust="spacingAndGlyphs">FUEL FLASHER</text>
<text class="tl" x="286.6" y="542.6" font-size="3.27" textLength="28.4" lengthAdjust="spacingAndGlyphs">FLASHER FUEL</text>
<text class="tf" x="303.0" y="548.2" font-size="3.27" textLength="14.0" lengthAdjust="spacingAndGlyphs">INSTRU</text>
<text class="tf" x="300.0" y="554.4" font-size="3.27" textLength="14.0" lengthAdjust="spacingAndGlyphs">HARN</text>
<text class="tl" x="303.0" y="560.0" font-size="3.27" textLength="12.0" lengthAdjust="spacingAndGlyphs">C 109</text>
<path class="wf" d="M302,531.6 H319 M317.5,531.6 V546 L320.5,549"/>
<path class="fd" d="M261,525.2 l3,-2 v4 z"/>
<text class="tm" x="265.5" y="524.6" font-size="3.61" textLength="21.5" lengthAdjust="spacingAndGlyphs">LEFT SD</text>
<text class="td" x="266.5" y="529.4" font-size="3.61" textLength="18.5" lengthAdjust="spacingAndGlyphs">LAMP TIE</text>
<path class="w" d="M189.6,391 l1.4,0.4 C195.5,397 200.4,405 200.4,412 C200.4,419 196,426 190,431.8 l0.2,-2.2 M190,431.8 l2.2,-0.4"/>
<path class="w" d="M196,407 H190 Q185.6,407 185.6,412 Q185.6,417 190,417 H196"/>
<path class="d" d="M188,409.5 H192.5 V414.5 H188" stroke-width="1.5"/>
<path class="m" d="M196,407.6 H211.2 V416.4 H196 Z"/>
<rect class="fd" x="196" y="410.2" width="8.6" height="1.6"/>
<rect class="fd" x="199.4" y="413.4" width="5" height="1.8"/>
<rect class="fd" x="202.6" y="407.6" width="3" height="2"/>
<path class="wl" d="M211.2,408.5 H226 M211.2,412 H226 M211.2,415.6 H226"/>
<path class="m" d="M226,404.4 H235.4 V418 H226 Z M226,409 H235.4 M226,413.6 H235.4 M230.6,404.4 V418"/>
<rect class="fm" x="231.4" y="405.6" width="3" height="2.4"/>
<rect class="fm" x="231.4" y="410.2" width="3" height="2.4"/>
<rect class="fm" x="231.4" y="414.8" width="3" height="2.4"/>
<text class="tl" x="202.0" y="403.4" font-size="3.27" textLength="20.0" lengthAdjust="spacingAndGlyphs">DIR SIG LP</text>
<text class="tm" x="237.0" y="408.0" font-size="3.78" textLength="19.0" lengthAdjust="spacingAndGlyphs">• 18 BLK</text>
<text class="tm" x="237.0" y="412.6" font-size="3.78" textLength="19.0" lengthAdjust="spacingAndGlyphs">• 18 BRN</text>
<text class="tm" x="237.0" y="417.4" font-size="3.78" textLength="19.0" lengthAdjust="spacingAndGlyphs">• 18 BLU</text>
<text class="td" x="212.3" y="430.8" font-size="3.78" textLength="19.7" lengthAdjust="spacingAndGlyphs">PARK DIR</text>
<text class="tm" x="233.0" y="430.8" font-size="3.61" textLength="8.4" lengthAdjust="spacingAndGlyphs">LP</text>
<path class="a" d="M192.0,442.2 A29.6,29.6 0 0 0 190.8,485.9"/>
<path class="a" d="M192.0,442.2 L194.3,443.3 L205.4,457.1 M205.2,471.1 L191.0,485.9"/>
<path class="d" d="M200.5,457.8 H195.8 V469.2 H200.5" stroke-width="1.5"/>
<rect class="fd" x="204.6" y="456.6" width="3.6" height="3.4"/>
<rect class="fd" x="204.6" y="466.2" width="3.6" height="3.4"/>
<path class="d" d="M205.6,460.0 V466.2" stroke-width="1.2"/>
<rect class="fm" x="197.4" y="461.1" width="2.2" height="5"/>
<path class="d" d="M214.0,457.1 L226.0,457.1 Q229.0,463.6 226.0,470.1 L214.0,470.1 Q212.0,463.6 214.0,457.1 Z" stroke-width="1.2"/>
<path class="d" d="M218.0,455.6 V471.6 M223.0,456.1 V471.1 M213.0,463.6 H228.5" stroke-width="1"/>
<rect class="fd" x="214.6" y="458.6" width="2.3" height="2.2"/>
<rect class="fd" x="219.4" y="458.6" width="2.3" height="2.2"/>
<rect class="fd" x="214.6" y="465.4" width="2.3" height="2.2"/>
<rect class="fd" x="219.4" y="465.4" width="2.3" height="2.2"/>
<rect class="fd" x="224.0" y="459.9" width="2.3" height="2.2"/>
<rect class="fd" x="224.0" y="464.8" width="2.3" height="2.2"/>
<text class="tm" x="220.0" y="450.4" font-size="3.61" textLength="30.0" lengthAdjust="spacingAndGlyphs">LIGHT 18 LT GRN</text>
<text class="tm" x="227.0" y="454.8" font-size="3.78" textLength="23.0" lengthAdjust="spacingAndGlyphs">• 18 DK GRN</text>
<text class="tm" x="232.0" y="462.4" font-size="3.61" textLength="18.0" lengthAdjust="spacingAndGlyphs">18 TAN</text>
<text class="tm" x="232.0" y="466.4" font-size="3.61" textLength="18.0" lengthAdjust="spacingAndGlyphs">18 TAN</text>
<text class="td" x="225.0" y="475.2" font-size="3.78" textLength="18.0" lengthAdjust="spacingAndGlyphs">• 18 BLK</text>
<text class="tm" x="220.0" y="479.8" font-size="3.61" textLength="30.0" lengthAdjust="spacingAndGlyphs">• 18 LT BLU 18 BLK</text>
<path class="wl" d="M251,449 H260 M251,453.3 H260"/>
<path class="wf" d="M251,461 H260 M251,465 H260"/>
<path class="wl" d="M244,473.8 H260 M251,478.4 H260"/>
<text class="tm" x="227.0" y="488.0" font-size="3.44" textLength="23.0" lengthAdjust="spacingAndGlyphs">LIGHT CONN</text>
<circle class="wf" cx="259" cy="440" r="1.2" stroke-width="0.7"/>
<path class="d" d="M207.6,494.8 H217 Q218.8,496.4 217,498 H207.6 Z M211,494.8 V498 M214.4,494.8 V498"/>
<path class="wl" d="M208.6,498.4 V501"/>
<path class="w" d="M221.7,496.5 H260.3"/>
<path class="fm" d="M220.2,496.5 l2.2,-1.2 v2.4 z"/>
<text class="t" x="195.4" y="518.6" font-size="3.27" textLength="21.3" lengthAdjust="spacingAndGlyphs">LOWER BLK</text>
<text class="t" x="196.0" y="522.6" font-size="3.27" textLength="19.0" lengthAdjust="spacingAndGlyphs">METER BLK</text>
<circle class="d" cx="196" cy="531.2" r="6.3" stroke-width="1.6"/>
<path class="d" stroke-width="0.9" d="M189.7,531.2 H202.3 M196,524.9000000000001 V537.5"/>
<circle class="m" cx="196" cy="531.2" r="3.47" stroke-width="0.9"/>
<rect class="fd" x="192.48" y="527.78" width="2.0" height="1.8"/>
<rect class="fd" x="197.52" y="527.78" width="2.0" height="1.8"/>
<rect class="fd" x="192.48" y="532.82" width="2.0" height="1.8"/>
<rect class="fd" x="197.52" y="532.82" width="2.0" height="1.8"/>
<text class="tm" x="208.8" y="530.4" font-size="3.61" textLength="17.2" lengthAdjust="spacingAndGlyphs">18 BLK/GRN</text>
<text class="tm" x="208.8" y="534.9" font-size="3.61" textLength="17.2" lengthAdjust="spacingAndGlyphs">18 BRN/WHT</text>
<path class="w" d="M227.5,529 H260"/>
<path class="wl" d="M227.5,533.7 H260"/>
<path class="a" d="M190.4,539.6 H200.4 L203.4,548.6 L209.4,550.6 L210.4,556.6 L208.4,558.1 H183.4 L181.4,556.6 L182.4,550.6 L188.4,548.6 Z" stroke-width="1.27"/>
<path class="a" d="M192.4,540.6 V551.6 Q192.4,554.6 195.4,554.6 Q198.9,554.6 198.9,551.6 V540.6" stroke-width="1.12"/>
<path class="m" d="M184.4,555.6 H207.4"/>
<text class="td" x="208.0" y="543.6" font-size="3.96" textLength="16.0" lengthAdjust="spacingAndGlyphs">SD MRK</text>
<text class="tm" x="211.0" y="548.4" font-size="3.78" textLength="5.0" lengthAdjust="spacingAndGlyphs">LP</text>
<text class="tm" x="360.0" y="180.8" font-size="3.78" textLength="19.0" lengthAdjust="spacingAndGlyphs">18 YEL/DK</text>
<text class="td" x="387.6" y="168.3" font-size="3.61" textLength="25.0" lengthAdjust="spacingAndGlyphs">HORN BRAKE</text>
<text class="td" x="388.5" y="173.2" font-size="3.61" textLength="22.0" lengthAdjust="spacingAndGlyphs">&amp; WIPER SW</text>
<path class="w" d="M386,176.6 H391 V181.6 H386 Z M393,176.6 H397 V181.6 H393 Z M399.5,176.6 H403.5 V181.6 H399.5 Z M406,176.6 H410 V181.6 H406 Z M412,176.6 H415.4 V181.6 H412 Z"/>
<path class="w" d="M385,179.3 H416"/>
<text class="td" x="376.0" y="185.3" font-size="3.27" textLength="34.5" lengthAdjust="spacingAndGlyphs">INSTRU HARNESS</text>
<text class="tm" x="359.0" y="190.2" font-size="3.78" textLength="14.0" lengthAdjust="spacingAndGlyphs">18 WHT</text>
<text class="td" x="376.0" y="190.3" font-size="3.78" textLength="6.0" lengthAdjust="spacingAndGlyphs">BLK</text>
<text class="tm" x="358.0" y="198.4" font-size="3.78" textLength="14.0" lengthAdjust="spacingAndGlyphs">18 WHT</text>
<text class="td" x="375.5" y="198.5" font-size="3.78" textLength="6.5" lengthAdjust="spacingAndGlyphs">BLK</text>
<path class="wl" d="M383,188.7 H494.6 Q497.9,188.7 497.9,185.4 V174"/>
<path class="wf" d="M383,196.8 H498.6 Q502.2,196.8 502.2,193.2 V174"/>
<circle class="wl" cx="500" cy="144.8" r="1.6" stroke-width="0.7"/>
<text class="td" x="489.5" y="152.4" font-size="3.78" textLength="11.5" lengthAdjust="spacingAndGlyphs">DOME</text>
<text class="tm" x="502.5" y="152.4" font-size="3.61" textLength="6.1" lengthAdjust="spacingAndGlyphs">LP</text>
<path class="m" d="M488.8,164.2 Q490,156 499.6,154.2 Q510,156 511.2,163.8"/>
<path class="m" d="M493.8,165.6 Q494.4,158 499.6,157 Q505,158 505.6,165.6"/>
<path class="m" d="M488.8,164.2 L493.8,165.6 M511.2,163.8 L505.6,165.6"/>
<path class="d" d="M495.8,165.6 V173 Q495.8,174.4 497.4,174.4 H502.6 Q504.2,174.4 504.2,173 V165.6" stroke-width="1.5"/>
<text class="tl" x="497.5" y="162.4" font-size="2.75" textLength="5.0" lengthAdjust="spacingAndGlyphs">LA</text>
<rect class="fm" x="489.8" y="169.8" width="2" height="1.8"/>
<rect class="fm" x="508.4" y="169.8" width="2" height="1.8"/>
<text class="tm" x="391.4" y="292.0" font-size="3.61" textLength="9.6" lengthAdjust="spacingAndGlyphs">18 BLK</text>
<path class="wl" d="M402,290.4 H421"/>
<text class="tl" x="415.5" y="283.6" font-size="3.27" textLength="14.5" lengthAdjust="spacingAndGlyphs">1.2MM AT</text>
<path class="d" d="M421.2,287.8 H430 V292.8 H421.2 Z" stroke-width="1.1"/>
<rect class="fd" x="421.8" y="288.6" width="3.4" height="3.4"/>
<rect class="fm" x="426.2" y="288.6" width="3" height="3.4"/>
<path class="wl" d="M430,288.2 H443.8 V298 M443.8,301.2 H434.5"/>
<path class="a" d="M434.2,289.9 H439.8 V297.6 L427.6,298.4 V300"/>
<rect class="fl" x="427.4" y="301.4" width="2" height="2"/>
<text class="tm" x="434.2" y="306.8" font-size="3.44" textLength="25.6" lengthAdjust="spacingAndGlyphs">DRIVER BELT</text>
<text class="tm" x="438.8" y="311.8" font-size="3.44" textLength="22.2" lengthAdjust="spacingAndGlyphs">BUCKLE SW</text>
<path class="d" d="M368.4,313.4 H394.4 L395.4,319.4 L389.9,320.4 L385.4,330.9 H376.4 L371.9,320.4 L367.4,319.4 Z" stroke-width="1.7"/>
<path class="d" d="M377.9,330.4 V319.4 Q377.9,316.4 381.09999999999997,316.4 Q384.4,316.4 384.4,319.4 V330.4" stroke-width="1.5"/>
<path class="m" d="M373.4,321.4 L377.4,329.4 M388.4,321.4 L384.9,329.4"/>
<text class="td" x="395.0" y="327.6" font-size="3.96" textLength="14.5" lengthAdjust="spacingAndGlyphs">SD MRK</text>
<text class="tm" x="398.0" y="331.6" font-size="3.61" textLength="5.0" lengthAdjust="spacingAndGlyphs">LP</text>
<circle class="m" cx="371.7" cy="339.2" r="1.5" stroke-width="0.7"/>
<circle class="d" cx="381.5" cy="343.7" r="6.4" stroke-width="1.6"/>
<path class="d" stroke-width="0.9" d="M375.1,343.7 H387.9 M381.5,337.3 V350.09999999999997"/>
<circle class="m" cx="381.5" cy="343.7" r="3.52" stroke-width="0.9"/>
<rect class="fd" x="377.94" y="340.24" width="2.0" height="1.8"/>
<rect class="fd" x="383.06" y="340.24" width="2.0" height="1.8"/>
<rect class="fd" x="377.94" y="345.36" width="2.0" height="1.8"/>
<rect class="fd" x="383.06" y="345.36" width="2.0" height="1.8"/>
<text class="td" x="390.6" y="344.2" font-size="3.96" textLength="15.4" lengthAdjust="spacingAndGlyphs">18 BRN</text>
<text class="tl" x="390.6" y="348.4" font-size="3.44" textLength="15.4" lengthAdjust="spacingAndGlyphs">18 BLK/GRN</text>
<path class="w" d="M406.6,342.6 H417.6 Q420.7,342.6 420.7,345.6"/>
<path class="w" d="M406.6,346.6 H426.3 Q429.3,346.6 429.3,349.6"/>
<text class="tl" x="373.4" y="354.4" font-size="3.27" textLength="23.2" lengthAdjust="spacingAndGlyphs">LOWER BLK</text>
<text class="tm" x="373.4" y="358.2" font-size="3.27" textLength="23.2" lengthAdjust="spacingAndGlyphs">METER BLK</text>
<path class="w" d="M412.1,391.5 V512.4 Q412.1,515.7 415.4,515.7 H449"/>
<path class="wd" d="M465,334 H419.6 Q416.4,334 416.4,337.2 V506.4"/>
<path class="wl" d="M420.7,345.6 V400.7"/>
<path class="w" d="M465,330 H428.2 Q425,330 425,333.2 V515.8 Q425,519.2 428.4,519.2 H449"/>
<path class="wd" d="M429.3,349.6 V524.4 Q429.3,527.9 432.8,527.9 H449.5"/>
<path class="wl" d="M465,325.7 H436.8 Q433.6,325.7 433.6,328.9 V362"/>
<circle class="fd" cx="429.4" cy="369.3" r="1.5"/>
<path class="m" d="M427.8,367.2 L435.7,361.4 M429.4,369.3 L434.3,374.4"/>
<text class="tl" x="433.6" y="361.2" font-size="3.1" textLength="6.9" lengthAdjust="spacingAndGlyphs">VLA</text>
<path class="w" d="M434.3,374.4 V405.3"/>
<path class="w" d="M434.3,376.8 Q434.6,374.6 436.5,374.6 Q438.6,374.6 438.6,377.5 V418.8 Q438.6,422.1 441.9,422.1 H477"/>
<path class="w" d="M438.6,377.5 Q438.9,375.8 440.6,375.8 Q442.9,375.8 442.9,378.8 V398.8 Q442.9,402.1 446.2,402.1 H477"/>
<rect class="fm" x="423.9" y="353.5" width="2.2" height="1.4"/>
<rect class="fm" x="423.9" y="355.7" width="2.2" height="1.4"/>
<rect class="fm" x="423.9" y="357.9" width="2.2" height="1.4"/>
<rect class="fm" x="423.9" y="360.1" width="2.2" height="1.4"/>
<circle class="fd" cx="420.2" cy="400.8" r="1.4"/>
<circle class="fd" cx="417.9" cy="406.2" r="1.4"/>
<path class="d" d="M416,402 L421,399.6 M416.8,408 L419.6,404.6"/>
<rect class="fx" x="411.1" y="436.5" width="2.0" height="1.2"/>
<rect class="fx" x="415.4" y="436.5" width="2.0" height="1.2"/>
<rect class="fx" x="424.0" y="436.5" width="2.0" height="1.2"/>
<rect class="fx" x="428.3" y="436.5" width="2.0" height="1.2"/>
<rect class="fx" x="411.1" y="442.4" width="2.0" height="1.2"/>
<rect class="fx" x="415.4" y="442.4" width="2.0" height="1.2"/>
<rect class="fx" x="424.0" y="442.4" width="2.0" height="1.2"/>
<rect class="fx" x="428.3" y="442.4" width="2.0" height="1.2"/>
<rect class="fx" x="411.1" y="448.7" width="2.0" height="1.2"/>
<rect class="fx" x="415.4" y="448.7" width="2.0" height="1.2"/>
<rect class="fx" x="424.0" y="448.7" width="2.0" height="1.2"/>
<rect class="fx" x="428.3" y="448.7" width="2.0" height="1.2"/>
<path class="w" d="M429.3,397.1 H453"/>
<text class="tl" x="453.6" y="398.4" font-size="3.44" textLength="5.0" lengthAdjust="spacingAndGlyphs">18</text>
<text class="td" x="459.0" y="398.6" font-size="3.96" textLength="8.0" lengthAdjust="spacingAndGlyphs">BRN</text>
<path class="w" d="M467.6,397.1 H476"/>
<text class="tl" x="453.6" y="403.4" font-size="3.44" textLength="5.0" lengthAdjust="spacingAndGlyphs">18</text>
<text class="td" x="459.0" y="403.6" font-size="3.96" textLength="8.0" lengthAdjust="spacingAndGlyphs">BLK</text>
<path class="w" d="M467.6,402.1 H476"/>
<path class="w" d="M424.5,417.4 H452"/>
<rect class="fx" x="424.0" y="416.8" width="2.0" height="1.2"/>
<rect class="fx" x="428.3" y="416.8" width="2.0" height="1.2"/>
<rect class="fx" x="433.3" y="416.8" width="2.0" height="1.2"/>
<rect class="fx" x="437.6" y="416.8" width="2.0" height="1.2"/>
<text class="tl" x="453.6" y="418.7" font-size="3.44" textLength="5.0" lengthAdjust="spacingAndGlyphs">18</text>
<text class="td" x="459.0" y="418.9" font-size="3.96" textLength="8.0" lengthAdjust="spacingAndGlyphs">BRN</text>
<path class="w" d="M467.6,417.4 H476"/>
<text class="tl" x="453.6" y="423.4" font-size="3.44" textLength="5.0" lengthAdjust="spacingAndGlyphs">18</text>
<text class="td" x="459.0" y="423.6" font-size="3.96" textLength="8.0" lengthAdjust="spacingAndGlyphs">BLK</text>
<path class="w" d="M467.6,422.1 H476"/>
<path class="a" d="M503.6,312.9 L509.5,315.9 Q511.6,317.4 511.6,320.9 V375.59999999999997 Q511.6,380.2 508,381.99999999999994 L503.6,383.59999999999997 V377.99999999999994 L494.4,374.2 V321.5 L503,318.5 Z"/>
<path class="a" d="M485.8,325.09999999999997 H494.4 V336.40000000000003 H485.8 Z M485.8,328.95 H494.4 M485.8,332.55 H494.4"/>
<path class="d" d="M494.4,322.9 H501.5 Q509.6,322.9 509.6,330.75 Q509.6,338.6 501.5,338.6 H494.4" stroke-width="1.2"/>
<path class="m" d="M497,325.9 H501.1 Q506.6,330.75 501.1,335.6 H497"/>
<path class="wl" d="M494.4,324.5 H500.1 Q508,324.5 508,330.75 Q508,337.0 500.1,337.0 H494.4"/>
<path class="a" d="M485.8,361.5 H494.4 V373.5 H485.8 Z M485.8,365.7 H494.4 M485.8,369.3 H494.4"/>
<path class="d" d="M494.4,359.3 H501.2 Q509.6,359.3 509.6,367.5 Q509.6,375.7 501.2,375.7 H494.4" stroke-width="1.2"/>
<path class="m" d="M497,362.3 H500.9 Q506.6,367.5 500.9,372.7 H497"/>
<path class="wl" d="M494.4,360.90000000000003 H499.8 Q508,360.90000000000003 508,367.5 Q508,374.09999999999997 499.8,374.09999999999997 H494.4"/>
<text class="tm" x="517.0" y="330.8" font-size="4.13" textLength="23.7" lengthAdjust="spacingAndGlyphs">TAIL STOP</text>
<text class="tm" x="519.0" y="335.2" font-size="3.96" textLength="15.0" lengthAdjust="spacingAndGlyphs">DIR LP</text>
<text class="tm" x="515.8" y="368.2" font-size="3.78" textLength="15.2" lengthAdjust="spacingAndGlyphs">B/U LP</text>
<path class="a" d="M503.6,466.4 L509.5,468.2 Q512.9,470 512.9,474 V530.8 Q512.9,534.4 509,535.7 H503.6 V530 L495,526.4 V472.9 L503.6,470 Z"/>
<path class="a" d="M485.8,475.8 H494.4 V487.8 H485.8 Z M485.8,480.0 H494.4 M485.8,483.6 H494.4"/>
<path class="d" d="M494.4,473.6 H501.2 Q509.6,473.6 509.6,481.8 Q509.6,490 501.2,490 H494.4" stroke-width="1.2"/>
<path class="m" d="M497,476.6 H500.9 Q506.6,481.8 500.9,487 H497"/>
<path class="wl" d="M494.4,475.20000000000005 H499.8 Q508,475.20000000000005 508,481.8 Q508,488.4 499.8,488.4 H494.4"/>
<path class="a" d="M485.8,512.2 H494.4 V524.1999999999999 H485.8 Z M485.8,516.4000000000001 H494.4 M485.8,520.0 H494.4"/>
<path class="d" d="M494.4,510 H501.2 Q509.6,510 509.6,518.2 Q509.6,526.4 501.2,526.4 H494.4" stroke-width="1.2"/>
<path class="m" d="M497,513 H500.9 Q506.6,518.2 500.9,523.4 H497"/>
<path class="wl" d="M494.4,511.6 H499.8 Q508,511.6 508,518.2 Q508,524.8 499.8,524.8 H494.4"/>
<circle class="fd" cx="517.6" cy="481.2" r="1.3"/>
<text class="td" x="520.0" y="482.6" font-size="3.96" textLength="14.3" lengthAdjust="spacingAndGlyphs">B/U LP</text>
<text class="t" x="520.7" y="488.4" font-size="3.27" textLength="27.7" lengthAdjust="spacingAndGlyphs">LOWER BLK LP SO</text>
<text class="tm" x="520.7" y="492.8" font-size="3.27" textLength="26.3" lengthAdjust="spacingAndGlyphs">METER BLK</text>
<text class="td" x="518.2" y="518.6" font-size="4.13" textLength="23.4" lengthAdjust="spacingAndGlyphs">TAIL STOP</text>
<text class="td" x="519.0" y="523.0" font-size="3.96" textLength="16.0" lengthAdjust="spacingAndGlyphs">DIR LP</text>
<text class="t" x="521.4" y="529.2" font-size="3.27" textLength="26.0" lengthAdjust="spacingAndGlyphs">LOWER BLK LP</text>
<text class="tm" x="522.0" y="533.6" font-size="3.27" textLength="25.0" lengthAdjust="spacingAndGlyphs">METER BLK</text>
<text class="tl" x="474.0" y="324.0" font-size="3.1" textLength="8.0" lengthAdjust="spacingAndGlyphs">YLA</text>
<circle class="d" cx="472.7" cy="331.2" r="5.8" stroke-width="1.7"/>
<path class="d" stroke-width="0.9" d="M466.9,331.2 H478.5 M472.7,325.4 V337.0"/>
<circle class="m" cx="472.7" cy="331.2" r="3.19" stroke-width="0.9"/>
<rect class="fd" x="469.38" y="327.98" width="2.0" height="1.8"/>
<rect class="fd" x="474.02" y="327.98" width="2.0" height="1.8"/>
<rect class="fd" x="469.38" y="332.62" width="2.0" height="1.8"/>
<rect class="fd" x="474.02" y="332.62" width="2.0" height="1.8"/>
<circle class="m" cx="472.6" cy="341.7" r="1.7" stroke-width="0.7"/>
<circle class="wl" cx="472.1" cy="357" r="1.6" stroke-width="0.7"/>
<circle class="a" cx="472.2" cy="366.5" r="5.4" stroke-width="1.4"/>
<path class="a" stroke-width="0.9" d="M466.8,366.5 H477.59999999999997 M472.2,361.1 V371.9"/>
<circle class="m" cx="472.2" cy="366.5" r="2.97" stroke-width="0.9"/>
<rect class="fd" x="469.04" y="363.44" width="2.0" height="1.8"/>
<rect class="fd" x="473.36" y="363.44" width="2.0" height="1.8"/>
<rect class="fd" x="469.04" y="367.76" width="2.0" height="1.8"/>
<rect class="fd" x="473.36" y="367.76" width="2.0" height="1.8"/>
<circle class="a" cx="482.1" cy="400" r="5.8" stroke-width="1.3"/>
<path class="a" stroke-width="0.9" d="M476.3,400 H487.90000000000003 M482.1,394.2 V405.8"/>
<circle class="m" cx="482.1" cy="400" r="3.19" stroke-width="0.9"/>
<rect class="fd" x="478.78" y="396.78" width="2.0" height="1.8"/>
<rect class="fd" x="483.42" y="396.78" width="2.0" height="1.8"/>
<rect class="fd" x="478.78" y="401.42" width="2.0" height="1.8"/>
<rect class="fd" x="483.42" y="401.42" width="2.0" height="1.8"/>
<circle class="a" cx="482.6" cy="420.4" r="5.8" stroke-width="1.3"/>
<path class="a" stroke-width="0.9" d="M476.8,420.4 H488.40000000000003 M482.6,414.59999999999997 V426.2"/>
<circle class="m" cx="482.6" cy="420.4" r="3.19" stroke-width="0.9"/>
<rect class="fd" x="479.28" y="417.18" width="2.0" height="1.8"/>
<rect class="fd" x="483.92" y="417.18" width="2.0" height="1.8"/>
<rect class="fd" x="479.28" y="421.82" width="2.0" height="1.8"/>
<rect class="fd" x="483.92" y="421.82" width="2.0" height="1.8"/>
<circle class="a" cx="473.2" cy="481.6" r="5.2" stroke-width="1.3"/>
<path class="a" stroke-width="0.9" d="M468.0,481.6 H478.4 M473.2,476.40000000000003 V486.8"/>
<circle class="m" cx="473.2" cy="481.6" r="2.86" stroke-width="0.9"/>
<rect class="fd" x="470.12" y="478.62" width="2.0" height="1.8"/>
<rect class="fd" x="474.28" y="478.62" width="2.0" height="1.8"/>
<rect class="fd" x="470.12" y="482.78" width="2.0" height="1.8"/>
<rect class="fd" x="474.28" y="482.78" width="2.0" height="1.8"/>
<circle class="m" cx="472.9" cy="492.6" r="1.7" stroke-width="0.7"/>
<circle class="wl" cx="472.9" cy="507.9" r="1.6" stroke-width="0.7"/>
<circle class="d" cx="473.6" cy="517.5" r="6.6" stroke-width="1.4"/>
<path class="d" stroke-width="0.9" d="M467.0,517.5 H480.20000000000005 M473.6,510.9 V524.1"/>
<circle class="m" cx="473.6" cy="517.5" r="3.63" stroke-width="0.9"/>
<rect class="fd" x="469.96" y="513.96" width="2.0" height="1.8"/>
<rect class="fd" x="475.24" y="513.96" width="2.0" height="1.8"/>
<rect class="fd" x="469.96" y="519.24" width="2.0" height="1.8"/>
<rect class="fd" x="475.24" y="519.24" width="2.0" height="1.8"/>
<path class="d" d="M467,517.5 H480.2 M473.6,511 V524" stroke-width="1.6"/>
<text class="tl" x="475.0" y="528.4" font-size="3.1" textLength="7.0" lengthAdjust="spacingAndGlyphs">YLA</text>
<path class="wl" d="M479,328.6 H485.8 M479,333 H485.8"/>
<path class="wl" d="M478.5,366.4 H485.8"/>
<path class="wl" d="M488,400 H493.6 M488.4,420.4 H493.6"/>
<path class="wl" d="M480,482.1 H486.4 M480.4,517.5 H486.4"/>
<text class="td" x="442.9" y="335.5" font-size="4.13" textLength="21.1" lengthAdjust="spacingAndGlyphs">18 BRN</text>
<text class="td" x="450.0" y="331.4" font-size="3.96" textLength="14.3" lengthAdjust="spacingAndGlyphs">18 DK GRN</text>
<text class="tl" x="449.0" y="327.0" font-size="3.44" textLength="15.0" lengthAdjust="spacingAndGlyphs">18 YEL</text>
<path class="w" d="M464.5,334 H467 M464.5,330 H467 M464.5,325.7 H467"/>
<text class="t" x="441.4" y="366.4" font-size="3.61" textLength="14.1" lengthAdjust="spacingAndGlyphs">18 LT</text>
<text class="td" x="456.0" y="366.6" font-size="3.96" textLength="8.0" lengthAdjust="spacingAndGlyphs">GRN</text>
<text class="tl" x="441.4" y="371.2" font-size="3.44" textLength="21.6" lengthAdjust="spacingAndGlyphs">18 BLK LP</text>
<path class="w" d="M436,365 H441 M464.5,365 H466.2"/>
<path class="wl" d="M430.8,369.6 H441"/>
<path class="m" d="M496,394.3 H507 Q511.4,394.3 511.4,400.35 Q511.4,406.4 507,406.4 H496 Q493.6,406.4 493.6,404.0 V396.7 Q493.6,394.3 496,394.3 Z"/>
<path class="m" d="M501.9,392.90000000000003 V407.79999999999995"/>
<rect class="fd" x="501" y="396.7" width="2.2" height="2.2"/>
<rect class="fd" x="501" y="401.79999999999995" width="2.2" height="2.2"/>
<path class="m" d="M503.5,397.3 Q507.4,400.35 503.5,403.4"/>
<path class="m" d="M496,415 H507 Q511.4,415 511.4,420.7 Q511.4,426.4 507,426.4 H496 Q493.6,426.4 493.6,424.0 V417.4 Q493.6,415 496,415 Z"/>
<path class="m" d="M501.9,413.6 V427.79999999999995"/>
<rect class="fd" x="501" y="417.4" width="2.2" height="2.2"/>
<rect class="fd" x="501" y="421.79999999999995" width="2.2" height="2.2"/>
<path class="m" d="M503.5,418 Q507.4,420.7 503.5,423.4"/>
<text class="tf" x="517.0" y="391.2" font-size="2.92" textLength="3.0" lengthAdjust="spacingAndGlyphs">AT</text>
<text class="tm" x="516.4" y="402.2" font-size="3.78" textLength="12.9" lengthAdjust="spacingAndGlyphs">LIC LP</text>
<text class="tf" x="520.0" y="408.4" font-size="3.27" textLength="25.7" lengthAdjust="spacingAndGlyphs">LOWER BLK LP SO</text>
<text class="tl" x="521.0" y="412.6" font-size="3.27" textLength="23.0" lengthAdjust="spacingAndGlyphs">METER BLK</text>
<text class="tf" x="519.4" y="426.6" font-size="2.92" textLength="2.2" lengthAdjust="spacingAndGlyphs">A</text>
<path class="a" d="M477.4,429.5 H512.8 V458.4 H477.4 Z" stroke-width="1.1"/>
<rect class="fd" x="496.4" y="435.2" width="12.4" height="2.6"/>
<path class="wl" d="M486.4,434.6 H497 M486.4,434.6 V436"/>
<path class="m" d="M488.6,442 H507.6 M497.4,437.6 V442 M488.6,442 q-1.4,1.4 0,2.6"/>
<circle class="fd" cx="508" cy="442" r="1.3"/>
<path class="wl" d="M488,449.4 H508 V443"/>
<rect class="fm" x="490.7" y="451.4" width="10" height="3"/>
<text class="t" x="517.0" y="433.6" font-size="3.44" textLength="18.0" lengthAdjust="spacingAndGlyphs">CLUSTER</text>
<text class="tm" x="517.0" y="438.6" font-size="3.61" textLength="20.0" lengthAdjust="spacingAndGlyphs">FUEL PUMP</text>
<text class="td" x="525.4" y="443.4" font-size="3.61" textLength="2.6" lengthAdjust="spacingAndGlyphs">&amp;</text>
<text class="td" x="516.4" y="448.6" font-size="3.78" textLength="26.6" lengthAdjust="spacingAndGlyphs">SENDER UNIT</text>
<path class="w" d="M429.3,479.3 L434.3,476.4 L440,471.4 Q441,467.9 444.4,467.9 H451.4"/>
<text class="tm" x="452.0" y="469.3" font-size="3.78" textLength="15.0" lengthAdjust="spacingAndGlyphs">18 BRN</text>
<path class="w" d="M467.6,467.9 H473 M485.7,467.9 H491.6 V469.8"/>
<path class="fd" d="M491.6,471.8 l-1.3,-2.4 h2.6 z"/>
<path class="m" d="M473,466.2 H484.6 Q486.4,467.9 484.6,469.6 H473 Z M477,466.2 V469.6 M481,466.2 V469.6"/>
<rect class="fd" x="428" y="478" width="2.8" height="2.6"/>
<path class="w" d="M421.4,479.3 H451"/>
<circle class="wl" cx="452.9" cy="479.3" r="1.5" stroke-width="0.7"/>
<text class="td" x="457.0" y="480.8" font-size="3.96" textLength="7.3" lengthAdjust="spacingAndGlyphs">BRN</text>
<path class="w" d="M465,479.3 H467.4"/>
<path class="wl" d="M432.9,483.6 H450"/>
<text class="tl" x="450.6" y="485.0" font-size="3.44" textLength="5.0" lengthAdjust="spacingAndGlyphs">18</text>
<text class="td" x="456.4" y="485.2" font-size="3.96" textLength="6.6" lengthAdjust="spacingAndGlyphs">BLK</text>
<path class="wl" d="M463.6,483.6 H467.4"/>
<text class="tm" x="451.4" y="489.4" font-size="3.44" textLength="5.6" lengthAdjust="spacingAndGlyphs">18</text>
<text class="tl" x="435.0" y="489.2" font-size="3.1" textLength="4.5" lengthAdjust="spacingAndGlyphs">CLA</text>
<path class="wl" d="M421.4,479.3 V503"/>
<text class="tm" x="450.0" y="517.2" font-size="3.78" textLength="3.8" lengthAdjust="spacingAndGlyphs">18</text>
<text class="td" x="456.4" y="517.3" font-size="4.13" textLength="7.9" lengthAdjust="spacingAndGlyphs">BRN</text>
<path class="wd" d="M464.6,515.7 H467"/>
<text class="tm" x="450.0" y="521.0" font-size="3.78" textLength="3.8" lengthAdjust="spacingAndGlyphs">18</text>
<text class="td" x="456.0" y="521.0" font-size="3.96" textLength="8.3" lengthAdjust="spacingAndGlyphs">DK GRN</text>
<path class="w" d="M464.6,519.2 H467"/>
<text class="tm" x="450.7" y="529.4" font-size="3.78" textLength="12.3" lengthAdjust="spacingAndGlyphs">18 BLK</text>
<text class="tl" x="463.6" y="529.2" font-size="3.44" textLength="7.8" lengthAdjust="spacingAndGlyphs">LP</text>
<path class="wl" d="M405,502.1 H420.7"/>
<path class="wd" d="M405,506.4 H416.4"/>
<rect class="fd" x="411.8" y="505.4" width="2.4" height="2"/>
<path class="wf" d="M407.9,502.1 V506"/>
<circle class="d" cx="382.1" cy="504.3" r="6.4" stroke-width="1.3"/>
<path class="d" stroke-width="0.9" d="M375.70000000000005,504.3 H388.5 M382.1,497.90000000000003 V510.7"/>
<circle class="m" cx="382.1" cy="504.3" r="3.52" stroke-width="0.9"/>
<rect class="fd" x="378.54" y="500.84" width="2.0" height="1.8"/>
<rect class="fd" x="383.66" y="500.84" width="2.0" height="1.8"/>
<rect class="fd" x="378.54" y="505.96" width="2.0" height="1.8"/>
<rect class="fd" x="383.66" y="505.96" width="2.0" height="1.8"/>
<circle class="m" cx="372.9" cy="510" r="1.6" stroke-width="0.7"/>
<text class="tl" x="392.9" y="503.6" font-size="3.44" textLength="11.4" lengthAdjust="spacingAndGlyphs">18 BLK</text>
<text class="td" x="391.4" y="508.0" font-size="4.13" textLength="12.9" lengthAdjust="spacingAndGlyphs">18 BRN</text>
<path class="d" d="M377,517.2 H387 L390,526.2 L396,528.2 L397,534.2 L395,535.7 H370 L368,534.2 L369,528.2 L375,526.2 Z" stroke-width="1.70"/>
<path class="d" d="M379,518.2 V529.2 Q379,532.2 382,532.2 Q385.5,532.2 385.5,529.2 V518.2" stroke-width="1.50"/>
<path class="m" d="M371,533.2 H394"/>
<text class="td" x="395.0" y="520.8" font-size="3.96" textLength="13.6" lengthAdjust="spacingAndGlyphs">SD MRK</text>
<text class="tm" x="398.0" y="525.0" font-size="3.61" textLength="5.0" lengthAdjust="spacingAndGlyphs">LP</text>
<text class="tl" x="370.7" y="542.8" font-size="3.27" textLength="25.7" lengthAdjust="spacingAndGlyphs">LOWER ASSY</text>
<text class="tm" x="370.7" y="547.2" font-size="3.27" textLength="25.7" lengthAdjust="spacingAndGlyphs">METER BLK</text>
</g>
</svg>
</body></html>
